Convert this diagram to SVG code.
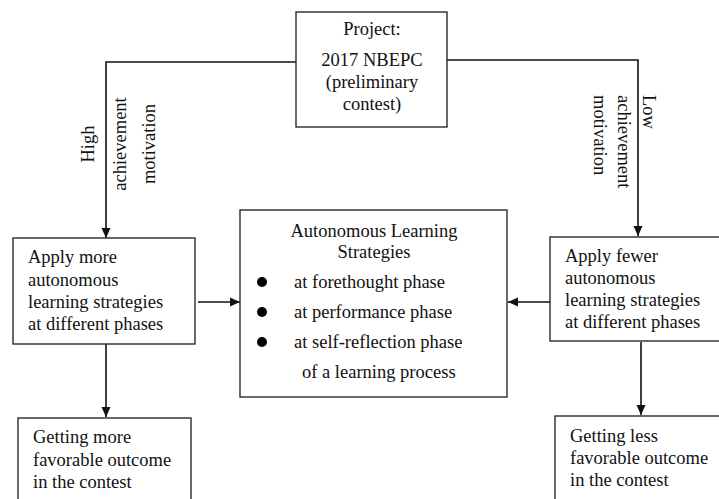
<svg xmlns="http://www.w3.org/2000/svg" width="719" height="499" viewBox="0 0 719 499">
<style>
.box{fill:#fff;stroke:#2a2a2a;stroke-width:1.4}
.t{font-family:"Liberation Serif","Times New Roman",serif;font-size:18.5px;fill:#111}
.c{text-anchor:middle}
.ln{fill:none;stroke:#111;stroke-width:1.6}
</style>
<defs>
<marker id="ah" viewBox="0 0 10 10" refX="10" refY="5" markerWidth="10" markerHeight="10" markerUnits="userSpaceOnUse" orient="auto">
<path d="M0,0.5 L10,5 L0,9.5 z" fill="#111"/>
</marker>
</defs>
<rect width="719" height="499" fill="#fff"/>
<g id="connectors">
<path class="ln" d="M296,62 H106 V238" marker-end="url(#ah)"/>
<path class="ln" d="M447,60 H638 V236" marker-end="url(#ah)"/>
<path class="ln" d="M198,302 H240" marker-end="url(#ah)"/>
<path class="ln" d="M550,302 H508" marker-end="url(#ah)"/>
<path class="ln" d="M106,344 V417" marker-end="url(#ah)"/>
<path class="ln" d="M641,342 V415" marker-end="url(#ah)"/>
<g id="label-high" class="t c">
<text transform="translate(94,144) rotate(-90)">High</text>
<text transform="translate(126,144) rotate(-90)">achievement</text>
<text transform="translate(155,144) rotate(-90)">motivation</text>
</g>
<g id="label-low" class="t">
<text transform="translate(643,95) rotate(90)">Low</text>
<text transform="translate(618,95) rotate(90)">achievement</text>
<text transform="translate(594,95) rotate(90)">motivation</text>
</g>
</g>
<g id="project">
<rect class="box" x="296" y="12" width="151" height="115"/>
<text class="t c" x="372" y="35">Project:</text>
<text class="t c" x="372" y="66">2017 NBEPC</text>
<text class="t c" x="372" y="88">(preliminary</text>
<text class="t c" x="372" y="110">contest)</text>
</g>
<g id="apply-more">
<rect class="box" x="13" y="238" width="182" height="106"/>
<text class="t" x="28" y="263">Apply more</text>
<text class="t" x="28" y="286">autonomous</text>
<text class="t" x="28" y="308">learning strategies</text>
<text class="t" x="28" y="330">at different phases</text>
</g>
<g id="strategies">
<rect class="box" x="240" y="210" width="267" height="187"/>
<text class="t c" x="374" y="237">Autonomous Learning</text>
<text class="t c" x="374" y="258">Strategies</text>
<circle cx="262" cy="282" r="5" fill="#000"/>
<circle cx="262" cy="312" r="5" fill="#000"/>
<circle cx="262" cy="342" r="5" fill="#000"/>
<text class="t" x="294" y="288">at forethought phase</text>
<text class="t" x="294" y="318">at performance phase</text>
<text class="t" x="294" y="348">at self-reflection phase</text>
<text class="t" x="302" y="378">of a learning process</text>
</g>
<g id="apply-fewer">
<rect class="box" x="550" y="237" width="190" height="104"/>
<text class="t" x="565" y="262">Apply fewer</text>
<text class="t" x="565" y="284">autonomous</text>
<text class="t" x="565" y="306">learning strategies</text>
<text class="t" x="565" y="328">at different phases</text>
</g>
<g id="outcome-more">
<rect class="box" x="18" y="418" width="173" height="100"/>
<text class="t" x="33" y="443">Getting more</text>
<text class="t" x="33" y="466">favorable outcome</text>
<text class="t" x="33" y="488">in the contest</text>
</g>
<g id="outcome-less">
<rect class="box" x="555" y="416" width="190" height="100"/>
<text class="t" x="570" y="442">Getting less</text>
<text class="t" x="570" y="464">favorable outcome</text>
<text class="t" x="570" y="486">in the contest</text>
</g>
</svg>
